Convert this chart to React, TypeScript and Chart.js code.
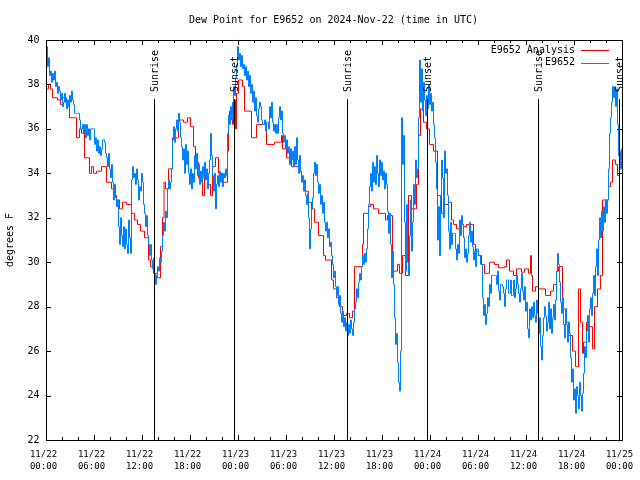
import React, { useEffect, useRef } from 'react';
import { Chart, registerables } from 'chart.js';

Chart.register(...registerables);

const chartTitle = 'Dew Point for E9652 on 2024-Nov-22 (time in UTC)';
const yAxisTitle = 'degrees F';
const seriesNames = ['E9652 Analysis', 'E9652'];
const seriesColors = ['#ff0000', '#0080ff'];

const xTickDates = ['11/22', '11/22', '11/22', '11/22', '11/23', '11/23', '11/23', '11/23', '11/24', '11/24', '11/24', '11/24', '11/25'];
const xTickTimes = ['00:00', '06:00', '12:00', '18:00', '00:00', '06:00', '12:00', '18:00', '00:00', '06:00', '12:00', '18:00', '00:00'];

const sunHours = [13.55, 23.55, 37.57, 47.57, 61.55, 71.6];
const sunLabels = ['Sunrise', 'Sunset', 'Sunrise', 'Sunset', 'Sunrise', 'Sunset'];

// Analysis series (hours since 11/22 00:00 UTC, deg F)
const analysisHours = [
  0, 0.25, 0.5, 0.75, 1.375, 1.75, 2, 2.375, 2.875, 3.75,
  4.125, 4.375, 4.625, 4.75, 5.375, 5.625, 5.875, 6.25, 6.875, 7.5,
  8.125, 8.5, 8.75, 9.125, 9.5, 10, 10.625, 11, 11.375, 11.75,
  12.25, 12.75, 13, 13.375, 13.875, 14.25, 14.5, 14.69, 14.875, 15.25,
  15.75, 16.5, 17.125, 17.625, 18, 18.375, 18.625, 19, 19.5, 19.75,
  20.125, 20.5, 20.75, 21.125, 21.5, 22, 22.625, 22.75, 22.875, 23.25,
  23.375, 23.625, 23.75, 24, 24.5, 24.75, 25.625, 26.25, 27.5, 28.5,
  29.375, 29.5, 30, 30.625, 31.5, 31.875, 32.25, 32.75, 33.125, 33.5,
  34, 34.625, 34.875, 35.625, 35.875, 36.25, 36.625, 37, 37.5, 37.875,
  38.25, 38.5, 39.5, 39.625, 40.25, 40.5, 40.875, 41.5, 42.375, 42.625,
  43.25, 43.375, 43.875, 44.125, 44.5, 44.875, 45.25, 45.625, 46.25, 46.5,
  46.75, 47.125, 47.5, 47.875, 48.375, 48.875, 49.375, 49.75, 50.25, 50.625,
  50.875, 51.25, 51.625, 52.125, 52.5, 53.375, 53.625, 54, 54.375, 54.75,
  55.375, 56, 56.5, 57.25, 57.5, 57.875, 58.375, 58.75, 59.375, 59.75,
  60.25, 60.5, 60.625, 60.75, 61.125, 61.5, 62.375, 63, 63.375, 63.75,
  64, 64.5, 64.875, 65.25, 65.75, 66.125, 66.5, 66.75, 67, 67.125,
  67.5, 67.875, 68.25, 68.5, 68.875, 69.25, 69.5, 70.25, 70.5, 70.75,
  71.125, 71.375, 71.625, 72,
];
const analysisDew = [
  37.8, 38.0, 37.8, 37.4, 37.3, 37.1, 37.4, 37.2, 36.5, 35.6,
  36.0, 35.8, 36.0, 34.7, 34.0, 34.3, 34.0, 34.1, 34.3, 33.6,
  33.3, 33.0, 32.8, 32.4, 32.7, 32.6, 32.2, 31.9, 31.7, 31.4,
  31.1, 30.1, 29.8, 29.5, 29.3, 30.7, 32.0, 33.6, 33.3, 34.2,
  35.6, 36.4, 36.3, 36.5, 36.1, 35.2, 34.5, 33.8, 33.0, 34.0,
  33.5, 33.0, 34.3, 34.7, 34.0, 33.6, 35.0, 36.6, 36.8, 36.2,
  37.3, 36.0, 37.6, 38.2, 37.9, 36.8, 35.6, 36.2, 35.3, 35.4,
  35.7, 35.1, 34.7, 34.3, 34.1, 33.7, 33.2, 32.7, 32.4, 31.8,
  31.2, 30.3, 30.1, 29.2, 28.8, 28.4, 28.0, 27.6, 27.7, 27.5,
  27.8, 29.8, 30.8, 32.2, 32.5, 32.6, 32.4, 32.2, 31.9, 32.1,
  30.3, 29.6, 29.9, 29.5, 30.3, 29.4, 33.0, 32.4, 33.5, 35.7,
  36.9, 36.3, 36.0, 35.3, 35.0, 33.0, 32.2, 32.6, 32.7, 31.9,
  31.7, 31.5, 31.7, 31.6, 31.7, 30.8, 30.5, 30.3, 29.9, 29.5,
  30.0, 29.9, 29.75, 29.8, 30.1, 29.6, 29.4, 29.7, 29.55, 29.7,
  29.5, 30.3, 29.4, 28.7, 28.9, 28.8, 28.5, 28.7, 29.0, 29.6,
  29.8, 27.9, 27.3, 26.7, 26.0, 25.3, 28.8, 27.3, 25.9, 26.4,
  27.3, 27.1, 26.1, 28.0, 28.8, 29.4, 32.8, 33.4, 33.6, 34.6,
  34.4, 33.9, 34.8, 34.5,
];

// Station observations: one reading every 7.5 minutes from 11/22 00:00 UTC
const obsStartHour = 0;
const obsStepHours = 0.125;
const obsDew = [
  39.7, 38.8, 39.2, 38.4, 38.6, 38.1, 38.5, 38.2, 38.6, 37.9,
  38.1, 37.6, 37.9, 37.7, 37.3, 37.6, 37.0, 37.2, 37.6, 37.4,
  36.9, 37.3, 37.0, 37.5, 37.2, 37.7, 37.3, 37.1, 36.7, 36.7,
  36.7, 36.7, 36.7, 36.4, 36.0, 36.0, 36.2, 35.8, 36.2, 35.6,
  36.2, 35.7, 36.0, 35.5, 36.0, 36.0, 36.0, 36.0, 35.3, 35.6,
  35.0, 35.5, 34.9, 35.2, 34.8, 35.1, 35.5, 35.5, 35.4, 34.9,
  34.7, 34.3, 34.9, 34.2, 33.8, 34.4, 33.6, 32.8, 33.5, 32.9,
  32.5, 32.8, 31.6, 30.8, 32.0, 31.2, 30.7, 31.6, 30.6, 31.5,
  30.8, 30.4, 31.9, 31.1, 30.4, 33.7, 34.3, 33.8, 34.0, 33.5,
  34.2, 33.7, 32.8, 33.4, 33.2, 34.0, 33.6, 32.6, 32.2, 31.6,
  32.1, 31.2, 30.8, 30.3, 30.8, 30.1, 29.7, 30.2, 29.5, 29.0,
  29.4, 29.8, 29.6, 30.2, 30.0, 30.5, 31.2, 31.8, 31.4, 32.3,
  32.0, 33.3, 33.7, 33.3, 33.6, 34.2, 35.5, 36.1, 35.4, 36.0,
  36.4, 35.9, 36.7, 36.3, 35.6, 35.2, 34.6, 35.1, 34.0, 35.3,
  34.4, 35.0, 34.0, 33.5, 34.2, 33.3, 34.0, 33.6, 34.8, 34.2,
  34.9, 33.9, 34.4, 33.5, 34.1, 33.6, 34.3, 33.8, 34.5, 33.7,
  34.2, 33.3, 34.0, 34.6, 35.8, 34.8, 33.9, 33.2, 34.0, 32.4,
  33.5, 33.9, 33.4, 34.1, 33.6, 34.0, 33.4, 34.0, 33.8, 34.2,
  33.9, 35.8, 36.6, 36.2, 37.0, 36.4, 37.2, 37.9, 37.5, 38.3,
  38.9, 39.7, 39.1, 39.4, 38.8, 39.3, 38.7, 38.9, 38.4, 38.8,
  38.2, 38.6, 37.9, 38.4, 37.6, 38.0, 37.2, 37.7, 36.8, 37.4,
  36.6, 36.3, 36.9, 37.2, 37.0, 36.4, 36.2, 36.2, 36.4, 35.9,
  36.3, 36.3, 36.0, 37.0, 36.5, 37.2, 36.3, 35.9, 36.2, 35.8,
  36.2, 35.8, 36.5, 37.0, 36.4, 36.8, 35.8, 35.4, 35.7, 35.1,
  35.5, 34.9, 35.2, 34.4, 35.1, 34.6, 35.0, 34.3, 35.2, 34.4,
  35.6, 34.6, 34.0, 34.8, 34.1, 33.6, 33.9, 33.2, 33.7, 33.0,
  32.6, 33.1, 32.0, 30.6, 31.5, 32.4, 32.9, 34.0, 34.5, 33.9,
  34.4, 33.6, 33.1, 33.5, 32.6, 33.0, 32.2, 32.7, 31.8, 31.4,
  31.8, 31.1, 31.5, 30.7, 30.9, 30.3, 29.9, 29.3, 29.6, 28.9,
  28.5, 28.9, 28.1, 28.5, 27.7, 27.3, 27.8, 27.1, 27.5, 26.9,
  27.3, 26.7, 27.2, 26.8, 27.4, 27.0, 26.7, 27.3, 27.9, 28.2,
  28.8, 28.4, 29.1, 29.5, 29.2, 29.8, 30.3, 29.9, 30.4, 30.0,
  30.6, 31.5, 32.6, 33.4, 34.0, 33.2, 34.5, 33.6, 34.3, 33.5,
  34.8, 34.0, 33.4, 34.6, 33.9, 34.5, 33.7, 34.1, 33.3, 34.0,
  33.5, 32.3, 31.3, 32.2, 30.8, 29.3, 30.5, 29.0, 27.5, 26.3,
  26.8, 25.5, 24.6, 24.2, 26.0, 36.5, 34.4, 35.7, 31.8, 29.6,
  32.6, 30.0, 29.4, 31.2, 32.8, 30.5, 31.8, 33.5, 32.6, 34.6,
  33.8, 34.2, 36.5, 39.1, 37.2, 38.7, 36.8, 38.1, 37.3, 36.6,
  37.5, 36.9, 38.0, 37.1, 37.6, 36.8, 37.2, 36.2, 35.6, 34.5,
  33.3, 31.0, 32.5, 30.3, 33.0, 34.6, 33.8, 32.0, 35.0, 34.0,
  34.2, 33.0, 31.4, 30.6, 31.8, 30.8, 31.3, 31.3, 31.3, 30.6,
  30.1, 30.8, 30.4, 31.9, 31.2, 32.1, 31.7, 31.1, 30.2, 30.6,
  30.0, 30.4, 31.2, 31.8, 30.9, 31.4, 30.7, 30.1, 30.5, 29.8,
  30.6, 30.6, 30.3, 30.3, 29.9, 29.9, 28.4, 27.6, 28.1, 27.2,
  27.7, 28.4, 28.0, 29.0, 28.6, 29.4, 29.4, 29.4, 29.4, 29.4,
  29.0, 29.6, 28.7, 28.3, 29.0, 29.0, 28.9, 28.6, 28.0, 28.8,
  29.2, 29.2, 28.6, 28.6, 29.2, 28.5, 28.5, 29.2, 28.4, 28.8,
  29.4, 29.0, 28.6, 28.2, 28.8, 29.5, 28.7, 28.3, 28.9, 27.8,
  28.2, 27.0, 26.6, 27.9, 27.4, 28.0, 27.5, 28.2, 27.6, 27.3,
  28.3, 27.7, 26.8, 27.5, 26.2, 25.6, 26.7, 27.5, 28.0, 27.6,
  26.9, 27.3, 28.2, 27.0, 27.9, 26.8, 27.5, 28.1, 27.4, 28.3,
  29.6, 30.4, 29.9, 29.1, 28.2, 27.7, 28.4, 27.2, 26.6, 27.9,
  27.2, 26.4, 27.3, 26.8, 25.7, 24.6, 25.2, 23.8, 24.3, 23.2,
  24.4, 24.0, 23.4, 24.6, 24.0, 23.3, 24.1, 25.0, 26.2, 25.7,
  26.9, 27.6, 26.4, 27.9, 28.4, 27.6, 28.6, 29.4, 28.5, 29.8,
  30.6, 29.4, 31.0, 32.0, 31.1, 32.3, 31.4, 32.5, 31.8, 32.8,
  32.2, 32.8, 34.2, 35.8, 36.5, 37.2, 37.9, 37.4, 37.9, 37.0,
  37.8, 36.2, 34.8, 35.0, 34.2, 35.1, 34.7,
];

const FONT = "'DejaVu Sans Mono', 'Liberation Mono', monospace";

const decorPlugin = {
  id: 'decor',
  afterDatasetsDraw(chart: any) {
    const { ctx, chartArea: a, scales } = chart;
    const xs = scales.x;
    const ys = scales.y;
    const L = Math.floor(a.left);
    const R = Math.floor(a.right);
    const T = Math.floor(a.top);
    const B = Math.floor(a.bottom);
    ctx.save();
    ctx.strokeStyle = '#000';
    ctx.fillStyle = '#000';
    ctx.lineWidth = 1;

    // sunrise / sunset markers
    ctx.font = `10px ${FONT}`;
    sunHours.forEach((h, i) => {
      const x = Math.floor(xs.getPixelForValue(h)) + 0.5;
      ctx.beginPath();
      ctx.moveTo(x, T + 59);
      ctx.lineTo(x, B);
      ctx.stroke();
      ctx.save();
      ctx.translate(x + 1, T + 52);
      ctx.rotate(-Math.PI / 2);
      ctx.textAlign = 'left';
      ctx.textBaseline = 'middle';
      ctx.fillText(sunLabels[i], 0, 0);
      ctx.restore();
    });

    // border box
    ctx.strokeRect(L + 0.5, T + 0.5, R - L, B - T);

    // inward tick marks (x: major every 6 h, minor every 2 h)
    ctx.beginPath();
    for (let h = 0; h <= 72; h += 2) {
      const x = Math.floor(xs.getPixelForValue(h)) + 0.5;
      const len = h % 6 === 0 ? 5 : 3;
      ctx.moveTo(x, B);
      ctx.lineTo(x, B - len);
      ctx.moveTo(x, T);
      ctx.lineTo(x, T + len);
    }
    for (let v = 22; v <= 40; v += 2) {
      const y = Math.round(ys.getPixelForValue(v)) + 0.5;
      ctx.moveTo(L, y);
      ctx.lineTo(L + 5, y);
      ctx.moveTo(R, y);
      ctx.lineTo(R - 5, y);
    }
    ctx.stroke();
    ctx.restore();
  },
  afterDraw(chart: any) {
    const { ctx, chartArea: a } = chart;
    const R = Math.floor(a.right);
    ctx.save();
    ctx.fillStyle = '#000';
    ctx.font = `10px ${FONT}`;

    // title
    ctx.textAlign = 'center';
    ctx.textBaseline = 'middle';
    ctx.fillText(chartTitle, (a.left + a.right) / 2 - 1, 20);

    // y axis title
    ctx.save();
    ctx.translate(10, (a.top + a.bottom) / 2);
    ctx.rotate(-Math.PI / 2);
    ctx.textAlign = 'center';
    ctx.textBaseline = 'middle';
    ctx.fillText(yAxisTitle, 0, 0);
    ctx.restore();

    // key
    ctx.textAlign = 'right';
    ctx.textBaseline = 'middle';
    seriesNames.forEach((name, i) => {
      const y = Math.floor(a.top) + 10 + i * 12.5;
      ctx.fillStyle = '#000';
      ctx.fillText(name, R - 47, y);
      ctx.strokeStyle = seriesColors[i];
      ctx.lineWidth = 1;
      ctx.beginPath();
      ctx.moveTo(R - 41, Math.round(y) + 0.5);
      ctx.lineTo(R - 13, Math.round(y) + 0.5);
      ctx.stroke();
    });
    ctx.restore();
  },
};

export default function App() {
  const canvasRef = useRef<HTMLCanvasElement | null>(null);

  useEffect(() => {
    document.body.style.margin = '0';
    document.body.style.background = '#ffffff';
    const canvas = canvasRef.current;
    if (!canvas) return;

    const analysisPoints = analysisHours.map((h, i) => ({ x: h, y: analysisDew[i] }));
    const obsPoints = obsDew.map((v, i) => ({ x: obsStartHour + i * obsStepHours, y: v }));

    const chart = new Chart(canvas, {
      type: 'line',
      data: {
        datasets: [
          {
            label: seriesNames[0],
            data: analysisPoints,
            borderColor: seriesColors[0],
            borderWidth: 1,
            pointRadius: 0,
            stepped: true,
            fill: false,
            order: 1,
          },
          {
            label: seriesNames[1],
            data: obsPoints,
            borderColor: seriesColors[1],
            borderWidth: 1,
            pointRadius: 0,
            stepped: true,
            fill: false,
            order: 0,
          },
        ],
      },
      options: {
        animation: false,
        responsive: false,
        maintainAspectRatio: false,
        parsing: false,
        layout: { padding: { left: 0, right: 17.5, top: 40, bottom: 0 } },
        plugins: {
          legend: { display: false },
          title: { display: false },
          tooltip: { enabled: false },
        },
        scales: {
          x: {
            type: 'linear',
            min: 0,
            max: 72,
            afterFit(scale: any) {
              scale.height = 40;
              scale.paddingLeft = 0;
              scale.paddingRight = 0;
            },
            grid: { display: false, drawTicks: false },
            border: { display: false },
            ticks: {
              stepSize: 6,
              autoSkip: false,
              maxRotation: 0,
              minRotation: 0,
              padding: 9,
              labelOffset: -3,
              color: '#000',
              font: { family: FONT, size: 9, lineHeight: 1.34 },
              callback: (value: any) => {
                const idx = Math.round(Number(value) / 6);
                return [xTickDates[idx], xTickTimes[idx]];
              },
            },
          },
          y: {
            type: 'linear',
            min: 22,
            max: 40,
            afterFit(scale: any) {
              scale.width = 46.5;
            },
            grid: { display: false, drawTicks: false },
            border: { display: false },
            ticks: {
              stepSize: 2,
              padding: 7,
              color: '#000',
              font: { family: FONT, size: 10 },
            },
          },
        },
      },
      plugins: [decorPlugin],
    } as any);

    return () => {
      chart.destroy();
    };
  }, []);

  return (
    <div style={{ width: 640, height: 480, background: '#fff' }}>
      <canvas ref={canvasRef} width={640} height={480} style={{ display: 'block' }} />
    </div>
  );
}
